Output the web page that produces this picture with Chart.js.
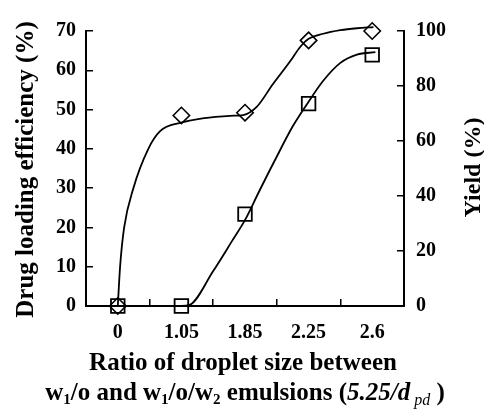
<!DOCTYPE html>
<html>
<head>
<meta charset="utf-8">
<script src="https://cdn.jsdelivr.net/npm/chart.js@4.4.1/dist/chart.umd.min.js"></script>
<style>
  html, body { margin: 0; padding: 0; background: #fff; }
  #wrap { width: 484px; height: 413px; }
</style>
</head>
<body>
<div id="wrap"><canvas id="chart"></canvas></div>
<script>
// Ratio of droplet size (x categories)
const categories = ["0", "1.05", "1.85", "2.25", "2.6"];

// Measured points
const loadingEfficiency = [0, 48.5, 49.2, 67.6, 70];   // diamonds, left axis (%)
const yieldValues = [0, 0, 33.4, 73.6, 91.3];          // squares, right axis (%)

// Fitted curves, positions in category units
const loadingCurveX = [0, 0.036, 0.10, 0.245, 0.48, 0.665, 0.98, 1.765, 1.97, 2.18, 2.44, 2.71, 2.87, 3.0, 3.23, 3.5, 3.76, 4.02];
const loadingCurveY = [0, 10, 20, 30, 40, 44.5, 46.6, 48.4, 48.6, 50.6, 56.5, 62.3, 66.0, 68.0, 69.3, 70.2, 70.7, 71.0];
const yieldCurveX = [0, 1, 1.13, 1.5, 1.79, 2.01, 2.21, 2.47, 2.76, 3.0, 3.23, 3.5, 3.76, 4.05];
const yieldCurveY = [0, 0, 0.4, 12.7, 23.4, 31.7, 41.1, 53.0, 65.7, 74.3, 81.9, 88.4, 91.4, 92.3];

const leftTicks = [0, 10, 20, 30, 40, 50, 60, 70];
const rightTicks = [0, 20, 40, 60, 80, 100];

const SERIF = "'Liberation Serif', 'Times New Roman', serif";

const toPoints = (xs, ys) => xs.map((x, i) => ({ x: x, y: ys[i] }));

// Axis titles drawn by hand: right title reads upward, bottom title has sub/italic runs
const titlePlugin = {
  id: "axisTitles",
  afterDraw(chart) {
    const ctx = chart.ctx;
    const area = chart.chartArea;
    const midY = (area.top + area.bottom) / 2;
    const midX = (area.left + area.right) / 2;

    ctx.save();
    ctx.fillStyle = "#000";
    ctx.textAlign = "center";
    ctx.textBaseline = "alphabetic";

    ctx.font = "bold 25px " + SERIF;
    ctx.save();
    ctx.translate(33, midY + 1);
    ctx.rotate(-Math.PI / 2);
    ctx.fillText("Drug loading efficiency (%)", 0, 0);
    ctx.restore();

    ctx.font = "bold 24px " + SERIF;
    ctx.save();
    ctx.translate(480, midY - 1);
    ctx.rotate(-Math.PI / 2);
    ctx.fillText("Yield (%)", 0, 0);
    ctx.restore();

    ctx.font = "bold 25px " + SERIF;
    ctx.fillText("Ratio of droplet size between", midX - 2, 370);

    const runs = [
      { t: "w", f: "bold 25px", dy: 0 },
      { t: "1", f: "bold 15px", dy: 4 },
      { t: "/o and w", f: "bold 25px", dy: 0 },
      { t: "1", f: "bold 15px", dy: 4 },
      { t: "/o/w", f: "bold 25px", dy: 0 },
      { t: "2", f: "bold 15px", dy: 4 },
      { t: " emulsions (", f: "bold 25px", dy: 0 },
      { t: "5.25/d", f: "italic bold 25px", dy: 0 },
      { t: " pd", f: "italic 16px", dy: 5 },
      { t: " )", f: "bold 25px", dy: 0 },
    ];
    let total = 0;
    runs.forEach((r) => {
      ctx.font = r.f + " " + SERIF;
      r.w = ctx.measureText(r.t).width;
      total += r.w;
    });
    let x = midX - total / 2;
    ctx.textAlign = "left";
    runs.forEach((r) => {
      ctx.font = r.f + " " + SERIF;
      ctx.fillText(r.t, x, 400 + r.dy);
      x += r.w;
    });
    ctx.restore();
  },
};

const tickFont = { family: SERIF, size: 20, weight: "bold" };

const curveStyle = {
  xAxisID: "xc",
  borderColor: "#000",
  borderWidth: 1.8,
  pointRadius: 0,
  cubicInterpolationMode: "monotone",
  fill: false,
  clip: false,
};

new Chart(document.getElementById("chart"), {
  type: "line",
  data: {
    labels: categories,
    datasets: [
      Object.assign({ data: toPoints(loadingCurveX, loadingCurveY), yAxisID: "y" }, curveStyle),
      Object.assign({ data: toPoints(yieldCurveX, yieldCurveY), yAxisID: "y2" }, curveStyle),
      {
        data: loadingEfficiency,
        xAxisID: "x",
        yAxisID: "y",
        showLine: false,
        pointStyle: "rectRot",
        pointRadius: 8.2,
        pointBorderWidth: 1.6,
        pointBorderColor: "#000",
        pointBackgroundColor: "rgba(0,0,0,0)",
        clip: false,
      },
      {
        data: yieldValues,
        xAxisID: "x",
        yAxisID: "y2",
        showLine: false,
        pointStyle: "rect",
        pointRadius: 9.6,
        pointBorderWidth: 1.8,
        pointBorderColor: "#000",
        pointBackgroundColor: "rgba(0,0,0,0)",
        clip: false,
      },
    ],
  },
  options: {
    responsive: true,
    maintainAspectRatio: false,
    animation: false,
    layout: { padding: { top: 24, left: 0, right: 0, bottom: 0 } },
    plugins: {
      legend: { display: false },
      tooltip: { enabled: false },
    },
    scales: {
      x: {
        type: "category",
        position: "bottom",
        offset: true,
        grid: {
          offset: true,
          drawOnChartArea: false,
          drawTicks: true,
          tickLength: -7,
          color: "#000",
          lineWidth: 1.5,
        },
        border: { display: true, color: "#000", width: 2 },
        ticks: { color: "#000", font: tickFont, padding: 22, maxRotation: 0 },
        afterFit(scale) {
          scale.height = 107;
        },
      },
      xc: {
        type: "linear",
        display: false,
        min: -0.5,
        max: 4.5,
      },
      y: {
        position: "left",
        min: 0,
        max: 70,
        afterBuildTicks(scale) {
          scale.ticks = leftTicks.map((v) => ({ value: v }));
        },
        grid: {
          drawOnChartArea: false,
          drawTicks: true,
          tickLength: -7,
          color: "#000",
          lineWidth: 1.5,
        },
        border: { display: true, color: "#000", width: 2 },
        ticks: { color: "#000", font: tickFont, padding: 17 },
        afterFit(scale) {
          scale.width = 86;
        },
      },
      y2: {
        position: "right",
        min: 0,
        max: 100,
        afterBuildTicks(scale) {
          scale.ticks = rightTicks.map((v) => ({ value: v }));
        },
        grid: {
          drawOnChartArea: false,
          drawTicks: true,
          tickLength: -7,
          color: "#000",
          lineWidth: 1.5,
        },
        border: { display: true, color: "#000", width: 2 },
        ticks: { color: "#000", font: tickFont, padding: 19 },
        afterFit(scale) {
          scale.width = 80;
        },
      },
    },
  },
  plugins: [titlePlugin],
});
</script>
</body>
</html>
